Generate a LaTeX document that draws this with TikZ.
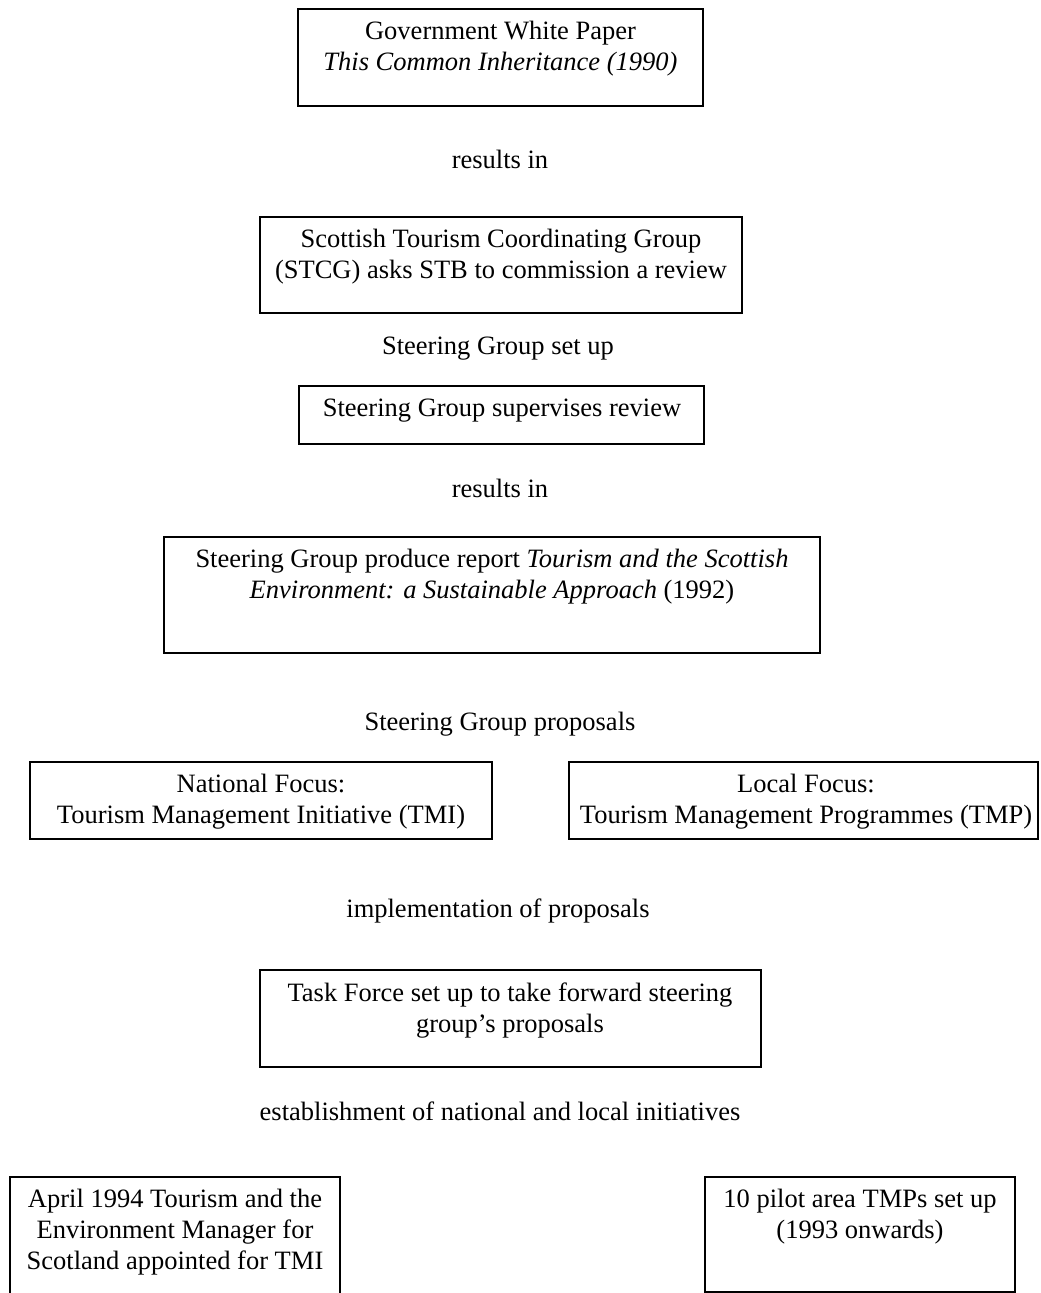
\documentclass[tikz,border=0pt]{standalone}
\usepackage{fontspec}
\setmainfont{Liberation Serif}
\usepackage{tikz}
\usetikzlibrary{calc}

\begin{document}
\begin{tikzpicture}[x=0.5pt,y=-0.5pt,
	box/.style={draw, line width=0.7pt},
	txt/.style={inner sep=0pt, align=center, font=\fontsize{13.25}{15.5}\selectfont},
	boxtxt/.style={txt, anchor=north}]

% page %{{{2

	\useasboundingbox (0,0) rectangle (1040,1293);

% boxes %{{{2

	\draw[box] (298,9) rectangle (703,106);
	\node[boxtxt] (paper) at (500.5,21) {Government White Paper\\\textit{This Common Inheritance (1990)}};

	\draw[box] (260,217) rectangle (742,313);
	\node[boxtxt] (stcg) at (501,229) {Scottish Tourism Coordinating Group\\(STCG) asks STB to commission a review};

	\draw[box] (299,386) rectangle (704,444);
	\node[boxtxt] (review) at (502,399) {Steering Group supervises review};

	\draw[box] (164,537) rectangle (820,653);
	\node[boxtxt] (report) at (492,549) {Steering Group produce report \textit{Tourism and the Scottish}\\\textit{Environment: a Sustainable Approach} (1992)};

	\draw[box] (30,762) rectangle (492,839);
	\node[boxtxt] (tmi) at (261,774) {National Focus:\\Tourism Management Initiative (TMI)};

	\draw[box] (569,762) rectangle (1038,839);
	\node[boxtxt] (tmp) at (806,774) {Local Focus:\\Tourism Management Programmes (TMP)};

	\draw[box] (260,970) rectangle (761,1067);
	\node[boxtxt] (taskforce) at (510,982) {Task Force set up to take forward steering\\group’s proposals};

	\draw[box] (10,1177) rectangle (340,1300);
	\node[boxtxt] (manager) at (175,1189) {April 1994 Tourism and the\\Environment Manager for\\Scotland appointed for TMI};

	\draw[box] (705,1177) rectangle (1015,1292);
	\node[boxtxt] (pilots) at (860,1189) {10 pilot area TMPs set up\\(1993 onwards)};

% links between boxes %{{{2

	\node[txt] (resultsA) at (500,159) {results in};
	\node[txt] (setup) at (498,349) {Steering Group set up};
	\node[txt] (resultsB) at (500,488) {results in};
	\node[txt] (proposals) at (500,724) {Steering Group proposals};
	\node[txt] (implement) at (498,911) {implementation of proposals};
	\node[txt] (establish) at (500,1111) {establishment of national and local initiatives};

% closing %{{{2

\end{tikzpicture}
\end{document}
